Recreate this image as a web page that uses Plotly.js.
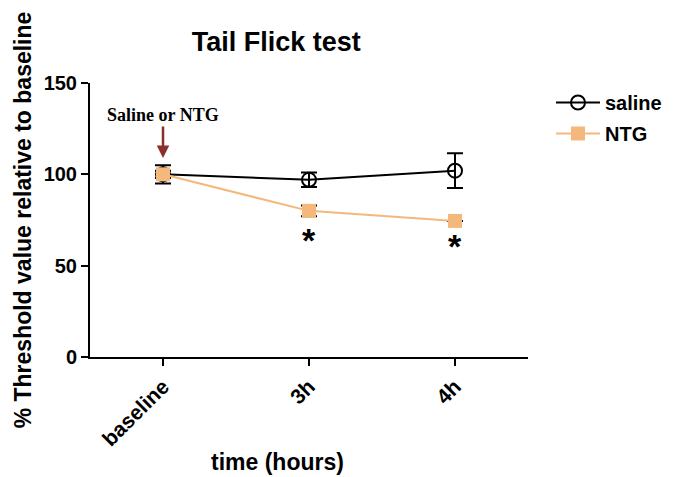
<!DOCTYPE html>
<html>
<head>
<meta charset="utf-8">
<script src="https://cdn.plot.ly/plotly-3.0.1.min.js"></script>
<style>html,body{margin:0;padding:0;background:#fff;}#chart{width:674px;height:477px;}</style>
</head>
<body>
<div id="chart"></div>
<script>
var categories = ["baseline", "3h", "4h"];
var salineValues = [100, 97, 102];
var salineErrors = [5, 4, 9.5];
var ntgValues = [100, 80, 74.5];
var ntgErrors = [2, 3, 0];
var starCategories = ["3h", "4h"];
var starValues = [64, 61];
var tickVals = [0, 50, 100, 150];

var ntgColor = "#F4B87C";
var ff = "Arial, Liberation Sans, sans-serif";

var traces = [
  {
    x: categories, y: salineValues, name: "saline", type: "scatter", mode: "lines+markers",
    legendgroup: "a",
    line: {color: "#000", width: 2},
    marker: {symbol: "circle-open", size: 14, color: "#000", line: {width: 2, color: "#000"}},
    error_y: {type: "data", array: salineErrors, visible: true, color: "#000", thickness: 2, width: 8}
  },
  {
    x: categories, y: ntgValues, name: "NTG", type: "scatter", mode: "lines+markers",
    legendgroup: "b",
    line: {color: ntgColor, width: 2},
    marker: {symbol: "square", size: 14, color: ntgColor},
    error_y: {type: "data", array: ntgErrors, visible: true, color: "#000", thickness: 2, width: 8}
  }
];

var annotations = starCategories.map(function(c, i) {
  return {x: c, y: starValues[i], xref: "x", yref: "y", text: "*", showarrow: false,
    font: {family: ff, size: 34, color: "#000", weight: "bold"}, yanchor: "middle"};
});
annotations.push({
  x: "baseline", y: 109, xref: "x", yref: "y", text: "Saline or NTG",
  showarrow: true, ax: 0, ay: -43, arrowhead: 2, arrowsize: 1, arrowwidth: 2.5, arrowcolor: "#8B2E2E",
  font: {family: "Liberation Serif, Times New Roman, serif", size: 18, color: "#000", weight: "bold"}
});
annotations.push({
  x: 0.427, y: -0.383, xref: "paper", yref: "paper", text: "time (hours)", showarrow: false,
  xanchor: "center", yanchor: "middle",
  font: {family: ff, size: 23, color: "#000", weight: "bold"}
});

var layout = {
  width: 674, height: 477,
  margin: {l: 90, r: 146, t: 83, b: 120, autoexpand: false},
  paper_bgcolor: "#fff", plot_bgcolor: "#fff",
  title: {text: "Tail Flick test", x: 0.41, xanchor: "center", y: 0.913, yanchor: "middle",
    font: {family: ff, size: 27, color: "#000", weight: "bold"}},
  font: {family: ff, color: "#000"},
  showlegend: true,
  legend: {xref: "container", yref: "container", x: 0.8175, y: 0.826, xanchor: "left", yanchor: "top",
    font: {family: ff, size: 20, color: "#000", weight: "bold"},
    traceorder: "grouped", tracegroupgap: 2, itemwidth: 44},
  xaxis: {
    type: "category", range: [-0.5, 2.5], showline: true, linecolor: "#000", linewidth: 2,
    ticks: "outside", ticklen: 7, tickwidth: 2, tickcolor: "#000", showgrid: false, zeroline: false,
    tickangle: -45, tickfont: {family: ff, size: 21, color: "#000", weight: "bold"}
  },
  yaxis: {
    range: [0, 150], tickvals: tickVals, showline: true, linecolor: "#000", linewidth: 2,
    ticks: "outside", ticklen: 7, tickwidth: 2, tickcolor: "#000", showgrid: false, zeroline: false,
    tickfont: {family: ff, size: 20, color: "#000", weight: "bold"},
    title: {text: "% Threshold value relative to baseline", font: {family: ff, size: 23, color: "#000", weight: "bold"}, standoff: 6}
  },
  annotations: annotations
};

Plotly.newPlot("chart", traces, layout, {displayModeBar: false, staticPlot: true});
</script>
</body>
</html>
